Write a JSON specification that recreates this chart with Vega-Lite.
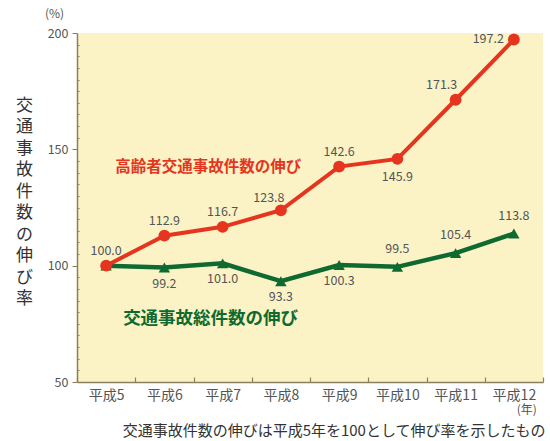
{
  "$schema": "https://vega.github.io/schema/vega-lite/v6.json",
  "width": 466,
  "height": 349,
  "autosize": {"type": "none"},
  "padding": {"left": 77, "top": 33, "right": 7, "bottom": 59},
  "background": "#ffffff",
  "title": {"text": "(%)", "anchor": "start", "frame": "group", "dx": -32, "offset": 6, "fontSize": 12, "font": "Noto Sans CJK JP", "fontWeight": "normal", "color": "#555555"},
  "config": {
    "view": {"fill": "#FBF3C6", "stroke": null},
    "font": "Noto Sans CJK JP",
    "axis": {"domainColor": "#8c7f5e", "domainWidth": 1.5, "tickColor": "#8c7f5e", "grid": false}
  },
  "datasets": {
    "rows": [
      {"year": "平成5", "series": "高齢者", "value": 100.0},
      {"year": "平成6", "series": "高齢者", "value": 112.9},
      {"year": "平成7", "series": "高齢者", "value": 116.7},
      {"year": "平成8", "series": "高齢者", "value": 123.8},
      {"year": "平成9", "series": "高齢者", "value": 142.6},
      {"year": "平成10", "series": "高齢者", "value": 145.9},
      {"year": "平成11", "series": "高齢者", "value": 171.3},
      {"year": "平成12", "series": "高齢者", "value": 197.2},
      {"year": "平成5", "series": "総件数", "value": 100.0},
      {"year": "平成6", "series": "総件数", "value": 99.2},
      {"year": "平成7", "series": "総件数", "value": 101.0},
      {"year": "平成8", "series": "総件数", "value": 93.3},
      {"year": "平成9", "series": "総件数", "value": 100.3},
      {"year": "平成10", "series": "総件数", "value": 99.5},
      {"year": "平成11", "series": "総件数", "value": 105.4},
      {"year": "平成12", "series": "総件数", "value": 113.8}
    ]
  },
  "data": {"name": "rows"},
  "encoding": {
    "x": {
      "field": "year", "type": "ordinal", "sort": null,
      "scale": {"type": "band", "paddingInner": 0, "paddingOuter": 0},
      "axis": {
        "title": "交通事故件数の伸びは平成5年を100として伸び率を示したもの",
        "titleFont": "Noto Sans CJK JP", "titleFontSize": 15, "titleFontWeight": "normal", "titleColor": "#333333",
        "titleAlign": "right", "titleAnchor": null, "titleX": 468, "titleY": 48, "titleBaseline": "middle",
        "labelAngle": 0, "labelFontSize": 14, "labelColor": "#555555", "labelPadding": 11,
        "tickBand": "extent", "tickSize": -5, "tickWidth": 1.2
      }
    },
    "y": {
      "field": "value", "type": "quantitative",
      "scale": {"domain": [50, 200], "nice": false, "zero": false},
      "axis": {
        "values": [50,55,60,65,70,75,80,85,90,95,100,105,110,115,120,125,130,135,140,145,150,155,160,165,170,175,180,185,190,195,200],
        "labelExpr": "datum.value % 50 === 0 ? datum.label : ''",
        "tickSize": {"condition": {"test": "datum.value % 50 === 0", "value": 5}, "value": -2},
        "tickWidth": 1,
        "labelFontSize": 12.5, "labelColor": "#555555", "labelPadding": 4,
        "title": ["交","通","事","故","件","数","の","伸","び","率"],
        "titleAngle": 0, "titleAlign": "center", "titleBaseline": "top",
        "titleX": -53, "titleY": 64, "titleLineHeight": 21.5,
        "titleFontSize": 17, "titleFontWeight": "normal", "titleColor": "#333333"
      }
    }
  },
  "layer": [
    {
      "transform": [{"filter": "datum.series === '総件数'"}],
      "mark": {"type": "line", "color": "#0E6A30", "strokeWidth": 4.5}
    },
    {
      "transform": [{"filter": "datum.series === '総件数'"}],
      "mark": {"type": "point", "shape": "triangle-up", "filled": true, "opacity": 1, "color": "#0E6A30", "size": 130}
    },
    {
      "transform": [{"filter": "datum.series === '高齢者'"}],
      "mark": {"type": "line", "color": "#E5351E", "strokeWidth": 4}
    },
    {
      "transform": [{"filter": "datum.series === '高齢者'"}],
      "mark": {"type": "point", "shape": "circle", "filled": true, "opacity": 1, "color": "#E5351E", "size": 140}
    },
    {
      "transform": [{"filter": "datum.series === '高齢者' && indexof(['平成5','平成6','平成7','平成9'], datum.year) >= 0"}],
      "mark": {"type": "text", "dy": -15, "fontSize": 12.5, "fontWeight": "normal", "color": "#555555"},
      "encoding": {"text": {"field": "value", "format": ".1f"}}
    },
    {
      "transform": [{"filter": "datum.series === '高齢者' && datum.year === '平成8'"}],
      "mark": {"type": "text", "dx": -12, "dy": -12, "fontSize": 12.5, "fontWeight": "normal", "color": "#555555"},
      "encoding": {"text": {"field": "value", "format": ".1f"}}
    },
    {
      "transform": [{"filter": "datum.series === '高齢者' && datum.year === '平成10'"}],
      "mark": {"type": "text", "dy": 18, "fontSize": 12.5, "fontWeight": "normal", "color": "#555555"},
      "encoding": {"text": {"field": "value", "format": ".1f"}}
    },
    {
      "transform": [{"filter": "datum.series === '高齢者' && datum.year === '平成11'"}],
      "mark": {"type": "text", "dx": -14, "dy": -15, "fontSize": 12.5, "fontWeight": "normal", "color": "#555555"},
      "encoding": {"text": {"field": "value", "format": ".1f"}}
    },
    {
      "transform": [{"filter": "datum.series === '高齢者' && datum.year === '平成12'"}],
      "mark": {"type": "text", "align": "right", "dx": -10, "dy": -1, "fontSize": 12.5, "fontWeight": "normal", "color": "#555555"},
      "encoding": {"text": {"field": "value", "format": ".1f"}}
    },
    {
      "transform": [{"filter": "datum.series === '総件数' && indexof(['平成6','平成7','平成8','平成9'], datum.year) >= 0"}],
      "mark": {"type": "text", "dy": 16, "fontSize": 12.5, "fontWeight": "normal", "color": "#555555"},
      "encoding": {"text": {"field": "value", "format": ".1f"}}
    },
    {
      "transform": [{"filter": "datum.series === '総件数' && indexof(['平成10','平成11','平成12'], datum.year) >= 0"}],
      "mark": {"type": "text", "dy": -18, "fontSize": 12.5, "fontWeight": "normal", "color": "#555555"},
      "encoding": {"text": {"field": "value", "format": ".1f"}}
    },
    {
      "transform": [{"filter": "datum.series === '高齢者' && datum.year === '平成5'"}],
      "mark": {"type": "text", "align": "left", "dx": 9, "fontSize": 15.5, "fontWeight": "bold", "color": "#E5351E", "text": "高齢者交通事故件数の伸び"},
      "encoding": {"y": {"datum": 142.6}}
    },
    {
      "transform": [{"filter": "datum.series === '総件数' && datum.year === '平成5'"}],
      "mark": {"type": "text", "align": "left", "dx": 17, "fontSize": 17.5, "fontWeight": "bold", "color": "#0E6A30", "text": "交通事故総件数の伸び"},
      "encoding": {"y": {"datum": 77}}
    },
    {
      "transform": [{"filter": "datum.series === '総件数' && datum.year === '平成12'"}],
      "mark": {"type": "text", "dx": 13, "dy": 28, "fontSize": 12, "fontWeight": "normal", "color": "#555555", "text": "(年)"},
      "encoding": {"y": {"datum": 50}}
    }
  ]
}
